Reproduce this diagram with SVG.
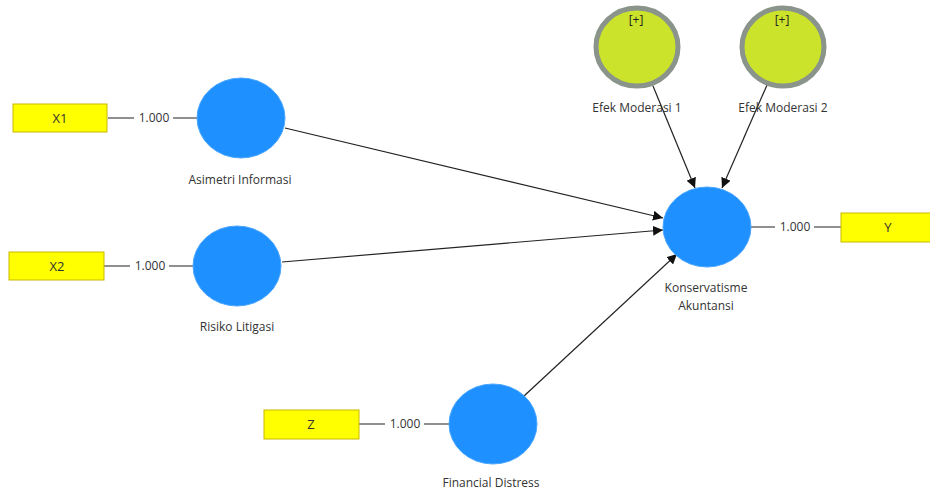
<svg xmlns="http://www.w3.org/2000/svg" width="930" height="492" viewBox="0 0 930 492">
<style>
text{font-family:"Open Sans","Noto Sans","Liberation Sans",sans-serif;fill:#333;}
.lbl{font-size:12px;text-anchor:middle;}
.val{font-size:12px;text-anchor:middle;}
.ind rect{fill:#ffff00;stroke:#c9b800;stroke-width:1;}
.ind text{font-size:13px;text-anchor:middle;fill:#333;}
.lv ellipse{fill:#1e90ff;stroke:#4aa6ff;stroke-width:1;}
.mod ellipse{fill:#cce32b;stroke:#8a948a;stroke-width:5;}
.plus{font-size:12px;text-anchor:middle;fill:#222;}
.edge{stroke:#222;stroke-width:1.2;fill:none;}
.arrow{stroke:#222;stroke-width:1.2;fill:none;marker-end:url(#ah);}
</style>
<defs>
<marker id="ah" viewBox="0 0 10 10" refX="10" refY="5" markerWidth="10" markerHeight="10" markerUnits="userSpaceOnUse" orient="auto">
<path d="M0,0 L10,5 L0,10 z" fill="#111"/>
</marker>
</defs>
<rect width="930" height="492" fill="#fff"/>
<g id="connectors">
<path class="arrow" d="M285,128 L663,218"/>
<path class="arrow" d="M282,262 L663,230"/>
<path class="arrow" d="M524,396 L677,254"/>
<path class="arrow" d="M653,86 L695,188"/>
<path class="arrow" d="M767,85 L722,188"/>
<path class="edge" d="M108,118 L134,118 M173,118 L197,118"/>
<path class="edge" d="M104,266 L130,266 M169,266 L193,266"/>
<path class="edge" d="M359,424 L385,424 M424,424 L449,424"/>
<path class="edge" d="M751,227 L775,227 M814,227 L841,227"/>
<text class="val" x="154" y="122">1.000</text>
<text class="val" x="150" y="270">1.000</text>
<text class="val" x="405" y="428">1.000</text>
<text class="val" x="795" y="231">1.000</text>
</g>
<g id="X1" class="ind"><rect x="13" y="104" width="94" height="28"/><text x="60" y="123">X1</text></g>
<g id="X2" class="ind"><rect x="9" y="252" width="95" height="28"/><text x="57" y="271">X2</text></g>
<g id="Z" class="ind"><rect x="264" y="410" width="95" height="29"/><text x="311" y="429">Z</text></g>
<g id="Y" class="ind"><rect x="841" y="213" width="95" height="29"/><text x="888" y="232">Y</text></g>
<g id="asimetri" class="lv"><ellipse cx="241" cy="118" rx="44" ry="40"/><text class="lbl" x="240" y="184">Asimetri Informasi</text></g>
<g id="risiko" class="lv"><ellipse cx="237" cy="266" rx="44" ry="40"/><text class="lbl" x="237" y="331">Risiko Litigasi</text></g>
<g id="financial" class="lv"><ellipse cx="493" cy="424" rx="44" ry="40"/><text class="lbl" x="491" y="487">Financial Distress</text></g>
<g id="konservatisme" class="lv"><ellipse cx="707" cy="227" rx="44" ry="40"/><text class="lbl" x="706" y="292">Konservatisme</text><text class="lbl" x="706" y="310">Akuntansi</text></g>
<g id="efek1" class="mod"><ellipse cx="637" cy="47" rx="41" ry="39"/><text class="plus" x="636" y="24">[+]</text><text class="lbl" x="637" y="112">Efek Moderasi 1</text></g>
<g id="efek2" class="mod"><ellipse cx="783" cy="47" rx="41" ry="39"/><text class="plus" x="782" y="24">[+]</text><text class="lbl" x="783" y="112">Efek Moderasi 2</text></g>
</svg>
